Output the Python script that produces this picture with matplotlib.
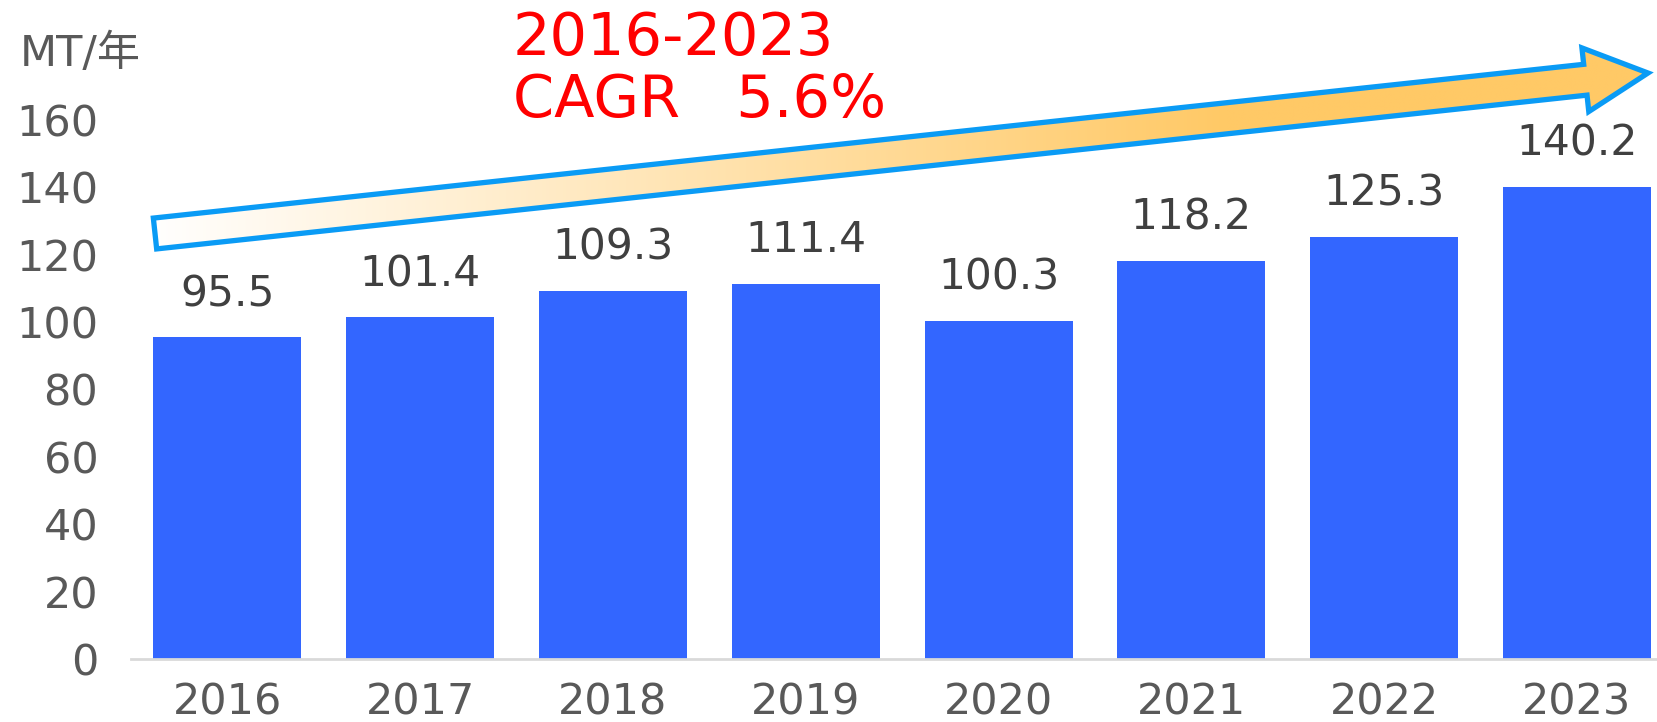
import numpy as np
import matplotlib
matplotlib.use("Agg")
import matplotlib.pyplot as plt
from matplotlib.patches import Polygon

plt.rcParams['font.family'] = ['DejaVu Sans', 'Noto Sans CJK SC']

years = ["2016", "2017", "2018", "2019", "2020", "2021", "2022", "2023"]
values = [95.5, 101.4, 109.3, 111.4, 100.3, 118.2, 125.3, 140.2]
yticks = [0, 20, 40, 60, 80, 100, 120, 140, 160]
unit_label = "MT/年"
title_lines = ["2016-2023", "CAGR   5.6%"]

W, H = 1657, 722
fig = plt.figure(figsize=(W / 100, H / 100), dpi=100)
ax = fig.add_axes([131 / W, (H - 659) / H, (W - 131) / W, 659 / H])

x = np.arange(len(years))
bars = ax.bar(x, values, width=0.768, color="#3366FF", zorder=2)
ax.bar_label(bars, labels=[f"{v:.1f}" for v in values], padding=16,
             fontsize=30.5, color="#404040")

ax.set_xlim(-0.5, 7.415)
ax.set_ylim(0, 195.6)
ax.set_xticks(x)
ax.set_xticklabels(years)
ax.set_yticks(yticks)
ax.tick_params(axis="both", length=0, labelsize=31, labelcolor="#595959")
ax.tick_params(axis="y", pad=23.5)
ax.tick_params(axis="x", pad=16)
for s in ["top", "right", "left"]:
    ax.spines[s].set_visible(False)
ax.spines["bottom"].set_color("#D9D9D9")
ax.spines["bottom"].set_linewidth(2)

# overlay in pixel coordinates for the annotation arrow and texts
ov = fig.add_axes([0, 0, 1, 1], zorder=5)
ov.set_xlim(0, W)
ov.set_ylim(H, 0)
ov.axis("off")
ov.patch.set_alpha(0)

ov.text(20, 54, unit_label, fontsize=31, color="#595959", va="center", ha="left")
ov.text(513, 55, title_lines[0], fontsize=42.5, color="#FF0000", va="baseline", ha="left")
ov.text(513, 117, title_lines[1], fontsize=42.5, color="#FF0000", va="baseline", ha="left")

# trend arrow
tail = np.array([155.0, 233.5])
tip = np.array([1648.0, 73.0])
d = tip - tail
L = np.hypot(*d)
u = d / L
n = np.array([-u[1], u[0]])
hw, headw, headl = 15.5, 32.0, 63.0
base = tip - u * headl
pts = [tail + n * hw, base + n * hw, base + n * headw, tip,
       base - n * headw, base - n * hw, tail - n * hw]
arrow = Polygon(pts, closed=True, facecolor="none", edgecolor="#0A9BF5",
                linewidth=3.8, joinstyle="miter", zorder=3)

grad = np.linspace(0, 1, 512)
grad = np.clip(grad / 0.72, 0, 1)
c0 = np.array([1.0, 1.0, 1.0])
c1 = np.array([0xFF, 0xC9, 0x66]) / 255
img = c0[None, :] * (1 - grad[:, None]) + c1[None, :] * grad[:, None]
img = img[None, :, :]
clip = Polygon(pts, closed=True, facecolor="none", edgecolor="none")
ov.add_patch(clip)
im = ov.imshow(img, extent=[tail[0] - 10, tip[0], 260, 30], aspect="auto",
               zorder=2, interpolation="bilinear")
im.set_clip_path(clip)
ov.add_patch(arrow)
ov.set_xlim(0, W)
ov.set_ylim(H, 0)

fig.savefig("out.png", dpi=100)
